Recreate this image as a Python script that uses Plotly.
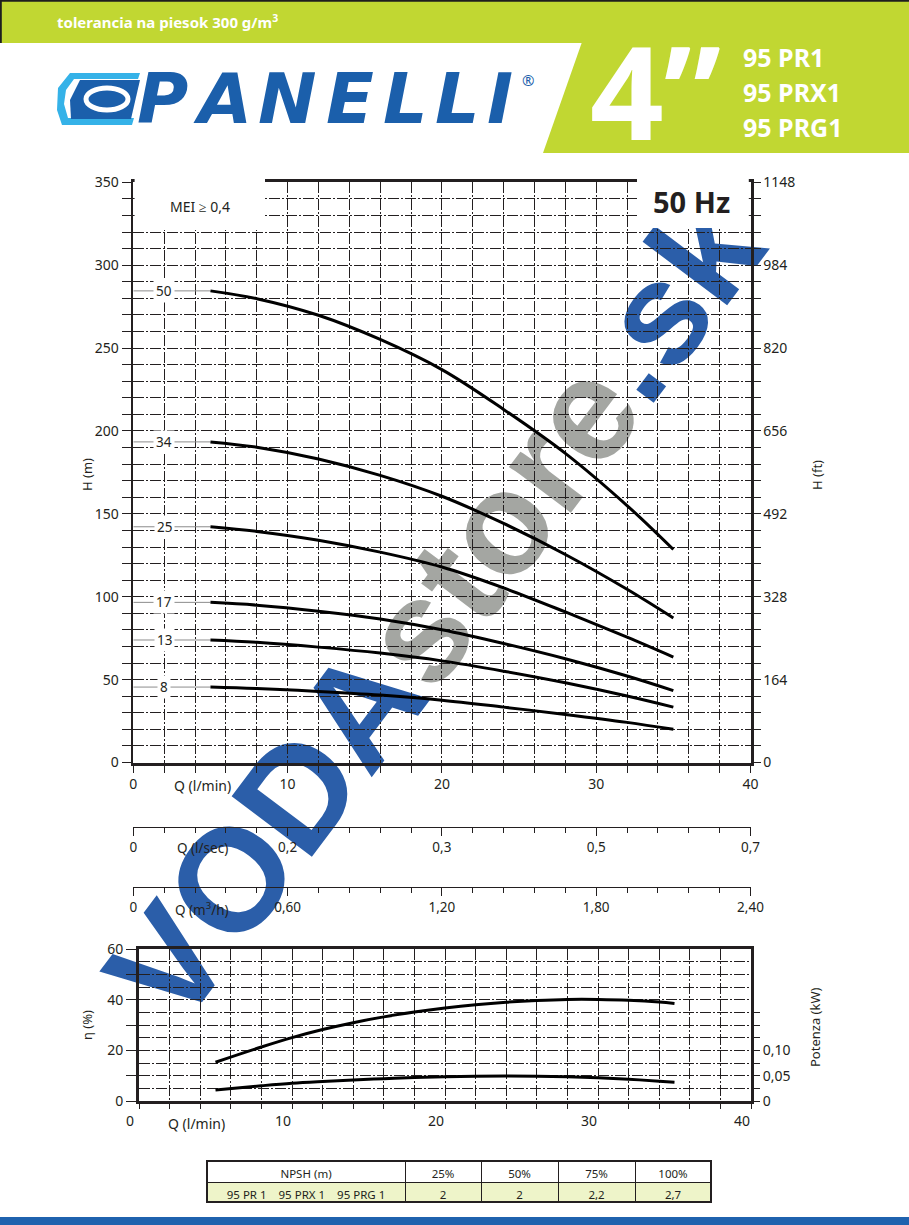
import plotly.graph_objects as go

W, H = 909, 1225
INK = "#231f20"
GREEN = "#c1d732"
BLUE = "#1b5fab"
WM_BLUE = "#2b5ea9"
WM_GRAY = "#a4a6a2"
FONT = "Noto Sans"
GRID_DASH = "11px,2px,2px,2px"


def fx(p):
    return p / W


def fy(p):
    return 1 - p / H


# ---------------- data ----------------
Q_HEAD = [5, 8, 12, 16, 20, 24, 28, 32, 35]          # l/min
STAGES = [50, 34, 25, 17, 13, 8]
H_50 = [284.5, 279.8, 269.8, 255.2, 237.0, 213.0, 186.5, 155.0, 128.5]
H_34 = [193.4, 190.2, 183.1, 173.2, 160.6, 144.2, 125.5, 104.5, 87.2]
H_25 = [142.2, 139.4, 134.1, 126.9, 117.9, 105.3, 90.8, 75.6, 63.6]
H_17 = [96.6, 94.9, 91.3, 86.6, 80.1, 71.8, 62.6, 52.2, 43.4]
H_13 = [73.9, 72.5, 69.6, 66.0, 61.3, 55.1, 48.1, 40.1, 33.4]
H_8 = [45.5, 44.6, 42.9, 40.7, 37.6, 33.4, 29.0, 24.2, 20.0]
HEAD_CURVES = [H_50, H_34, H_25, H_17, H_13, H_8]

Q_EFF = [5, 8, 10, 12, 14, 16, 18, 20, 22, 24, 26, 28, 30, 32, 34, 35]
ETA = [15.3, 21.3, 25.0, 28.2, 30.9, 33.2, 35.1, 36.7, 38.0, 39.0, 39.7, 40.1, 40.1, 39.8, 39.1, 38.5]
POWER_KW = [0.0215, 0.030, 0.035, 0.0385, 0.0415, 0.044, 0.0465, 0.048, 0.049, 0.0493,
            0.049, 0.048, 0.046, 0.043, 0.039, 0.037]

Q_MAJOR = [0, 10, 20, 30, 40]
Q_LMIN_LABELS = ["0", "10", "20", "30", "40"]
Q_LSEC_LABELS = ["0", "0,2", "0,3", "0,5", "0,7"]
Q_M3H_LABELS = ["0", "0,60", "1,20", "1,80", "2,40"]
H_M_LABELS = ["0", "50", "100", "150", "200", "250", "300", "350"]
H_FT_LABELS = ["0", "164", "328", "492", "656", "820", "984", "1148"]
ETA_LABELS = {0: "0", 20: "20", 40: "40", 60: "60"}
POWER_LABELS = {0: "0", 2: "0,05", 4: "0,10"}

NPSH_HEADER = ["NPSH (m)", "25%", "50%", "75%", "100%"]
NPSH_MODELS = "95 PR 1\u00a0\u00a0\u00a0\u00a095 PRX 1\u00a0\u00a0\u00a0\u00a095 PRG 1"
NPSH_VALUES = ["2", "2", "2,2", "2,7"]

# ---------------- tick arrays ----------------
q_grid = list(range(0, 41, 2))
q_text = [Q_LMIN_LABELS[Q_MAJOR.index(v)] if v in Q_MAJOR else "" for v in q_grid]
h_grid = list(range(0, 351, 10))
h_text = [H_M_LABELS[v // 50] if v % 50 == 0 else "" for v in h_grid]
ft_vals = [i * 32.8 for i in range(36)]
ft_text = [H_FT_LABELS[i // 5] if i % 5 == 0 else "" for i in range(36)]
eta_vals = list(range(0, 61, 10))
eta_text = [ETA_LABELS.get(v, "") for v in eta_vals]
pw_vals = [i * 0.025 for i in range(8)]
pw_text = [POWER_LABELS.get(i, "") for i in range(8)]

fig = go.Figure()

CURVE = dict(color="#000000", width=3, shape="spline", smoothing=1.0)

# head curves
for stage, h in zip(STAGES, HEAD_CURVES):
    fig.add_trace(go.Scatter(x=[0, Q_HEAD[0]], y=[h[0], h[0]], mode="lines",
                             line=dict(color="#8c8c8c", width=1),
                             hoverinfo="skip", showlegend=False))
    fig.add_trace(go.Scatter(x=Q_HEAD, y=h, mode="lines", line=CURVE,
                             showlegend=False, name=str(stage)))
    fig.add_annotation(x=2, y=h[0], xref="x", yref="y", text=str(stage), showarrow=False,
                       bgcolor="white", borderpad=2,
                       font=dict(size=13.5, color=INK, family=FONT))

# dummy traces so the extra axes are drawn
for xa, ya in (("x", "y2"), ("x3", "y"), ("x4", "y")):
    fig.add_trace(go.Scatter(x=[0], y=[0], xaxis=xa, yaxis=ya, mode="markers",
                             marker=dict(opacity=0), hoverinfo="skip", showlegend=False))

# efficiency / power
fig.add_trace(go.Scatter(x=Q_EFF, y=ETA, xaxis="x2", yaxis="y3", mode="lines", line=CURVE,
                         showlegend=False, name="η"))
fig.add_trace(go.Scatter(x=Q_EFF, y=POWER_KW, xaxis="x2", yaxis="y4", mode="lines", line=CURVE,
                         showlegend=False, name="P"))

# NPSH table
fig.add_trace(go.Table(
    domain=dict(x=[fx(207), fx(711)], y=[fy(1214), fy(1161)]),
    columnwidth=[198, 76, 77, 77, 76],
    header=dict(values=NPSH_HEADER, fill_color="white", line=dict(color=INK, width=1),
                font=dict(size=11.5, color=INK, family=FONT), align="center", height=21),
    cells=dict(values=[[NPSH_MODELS]] + [[v] for v in NPSH_VALUES], fill_color="#eef4c9",
               line=dict(color=INK, width=1), font=dict(size=11.5, color=INK, family=FONT),
               align="center", height=20),
))

grid = dict(showgrid=True, gridcolor=INK, gridwidth=1.1, griddash=GRID_DASH, zeroline=False,
            automargin=False)
tickf = dict(size=14, color=INK, family=FONT)

fig.update_layout(
    width=W, height=H, autosize=False,
    margin=dict(l=0, r=0, t=0, b=0, pad=0, autoexpand=False),
    paper_bgcolor="white", plot_bgcolor="rgba(0,0,0,0)",
    showlegend=False,
    xaxis=dict(domain=[fx(133.3), fx(750.5)], range=[0, 40], anchor="y",
               tickmode="array", tickvals=q_grid, ticktext=q_text,
               ticks="outside", ticklen=7, tickwidth=1.2, tickcolor=INK,
               showline=True, linewidth=3, linecolor=INK, mirror=True,
               tickfont=tickf, **grid),
    yaxis=dict(domain=[fy(762.5), fy(182.3)], range=[0, 350], anchor="x",
               tickmode="array", tickvals=h_grid, ticktext=h_text,
               ticks="outside", ticklen=10, tickwidth=1.2, tickcolor=INK,
               showline=True, linewidth=1.5, linecolor=INK,
               tickfont=tickf, **grid),
    yaxis2=dict(overlaying="y", side="right", anchor="x", range=[0, 1148],
                tickmode="array", tickvals=ft_vals, ticktext=ft_text,
                ticks="outside", ticklen=7, tickwidth=1.2, tickcolor=INK,
                showline=True, linewidth=3, linecolor=INK, showgrid=False, zeroline=False,
                automargin=False, tickfont=tickf),
    xaxis3=dict(overlaying="x", anchor="free", position=fy(827), side="bottom", range=[0, 40],
                tickmode="array", tickvals=Q_MAJOR, ticktext=Q_LSEC_LABELS,
                ticks="outside", ticklen=8, tickwidth=1.2, tickcolor=INK,
                minor=dict(dtick=2, tick0=0, ticks="outside", ticklen=5, tickwidth=1, tickcolor=INK),
                showline=True, linewidth=1.3, linecolor=INK, showgrid=False, zeroline=False,
                automargin=False, tickfont=dict(size=13.5, color=INK, family=FONT)),
    xaxis4=dict(overlaying="x", anchor="free", position=fy(887), side="bottom", range=[0, 40],
                tickmode="array", tickvals=Q_MAJOR, ticktext=Q_M3H_LABELS,
                ticks="outside", ticklen=8, tickwidth=1.2, tickcolor=INK,
                minor=dict(dtick=2, tick0=0, ticks="outside", ticklen=5, tickwidth=1, tickcolor=INK),
                showline=True, linewidth=1.3, linecolor=INK, showgrid=False, zeroline=False,
                automargin=False, tickfont=dict(size=13.5, color=INK, family=FONT)),
    xaxis2=dict(domain=[fx(139), fx(751)], range=[0, 40], anchor="y3",
                tickmode="array", tickvals=q_grid, ticktext=q_text, ticklabelshift=-9,
                ticks="outside", ticklen=5, tickwidth=1.2, tickcolor=INK,
                showline=True, linewidth=3, linecolor=INK, mirror=True,
                tickfont=tickf, **grid),
    yaxis3=dict(domain=[fy(1101), fy(949)], range=[0, 60], anchor="x2",
                tickmode="array", tickvals=eta_vals, ticktext=eta_text,
                ticks="outside", ticklen=10, tickwidth=1.2, tickcolor=INK,
                minor=dict(dtick=5, tick0=0, showgrid=True, gridcolor=INK, gridwidth=1.1,
                           griddash=GRID_DASH, ticks=""),
                showline=True, linewidth=3, linecolor=INK, mirror=True,
                tickfont=tickf, **grid),
    yaxis4=dict(overlaying="y3", side="right", anchor="x2", range=[0, 0.3],
                tickmode="array", tickvals=pw_vals, ticktext=pw_text,
                ticks="outside", ticklen=8, tickwidth=1.2, tickcolor=INK,
                showline=False, showgrid=False, zeroline=False, automargin=False,
                tickfont=tickf),
)

shapes = []


def rect_px(x0, y0, x1, y1, fill, layer="above"):
    return dict(type="rect", xref="paper", yref="paper", x0=fx(x0), x1=fx(x1), y0=fy(y1), y1=fy(y0),
                fillcolor=fill, line=dict(width=0), layer=layer)


def path_px(pts, fill, layer="above"):
    d = "M " + " L ".join(f"{fx(x):.5f},{fy(y):.5f}" for x, y in pts) + " Z"
    return dict(type="path", xref="paper", yref="paper", path=d, fillcolor=fill,
                line=dict(width=0), layer=layer)


# watermark (below grid)
wm_text = (f"<b><span style='color:{WM_BLUE}'>VODA</span>"
           f"<span style='color:{WM_GRAY}'>store</span>"
           f"<span style='color:{WM_BLUE}'>.sk</span></b>")
shapes.append(dict(type="rect", xref="paper", yref="paper",
                   x0=fx(418), x1=fx(428), y0=fy(607), y1=fy(597), layer="below",
                   line=dict(width=0), fillcolor="rgba(0,0,0,0)",
                   label=dict(text=wm_text, textangle=-53, textposition="middle center",
                              font=dict(size=146, family="Liberation Sans", color=WM_BLUE))))

# white boxes inside the chart top
shapes.append(rect_px(134.6, 177, 265, 230, "white"))
shapes.append(rect_px(637, 177, 748.8, 228, "white"))

# header
shapes.append(rect_px(0, 0, 909, 43, GREEN))
shapes.append(path_px([(582, 42), (909, 42), (909, 153), (543, 153)], GREEN))
shapes.append(dict(type="line", xref="paper", yref="paper", x0=0, x1=1, y0=fy(0.8), y1=fy(0.8),
                   line=dict(color="#1e1e1e", width=2), layer="above"))
shapes.append(dict(type="line", xref="paper", yref="paper", x0=fx(0.8), x1=fx(0.8), y0=fy(43), y1=fy(0),
                   line=dict(color="#1e1e1e", width=2), layer="above"))
# logo emblem
shapes.append(path_px([(70, 73), (140, 73), (138, 79), (74, 79), (66, 90), (64, 104), (68, 118),
                       (134, 118), (132, 125), (62, 125), (57, 110), (58, 88)], "#35b2e8"))
shapes.append(path_px([(80, 80), (140, 80), (131, 119), (71, 119), (70, 100)], BLUE))
shapes.append(dict(type="circle", xref="paper", yref="paper", x0=fx(86), x1=fx(128),
                   y0=fy(110), y1=fy(88), line=dict(color="white", width=5), fillcolor=BLUE,
                   layer="above"))
# bottom bar
shapes.append(rect_px(0, 1217, 909, 1225, "#1f62ae"))
# table outer border
shapes.append(dict(type="rect", xref="paper", yref="paper", x0=fx(207), x1=fx(711),
                   y0=fy(1202), y1=fy(1161), line=dict(color=INK, width=2),
                   fillcolor="rgba(0,0,0,0)", layer="above"))

fig.update_layout(shapes=shapes)


def note(xp, yp, text, size, color=INK, xanchor="center", angle=0, family=FONT):
    fig.add_annotation(x=fx(xp), y=fy(yp), xref="paper", yref="paper", text=text,
                       showarrow=False, xanchor=xanchor, yanchor="middle", textangle=angle,
                       font=dict(size=size, color=color, family=family))


# header texts
note(55, 22, "<b>tolerancia na piesok 300 g/m<sup>3</sup></b>", 15, "white", "left")
note(655, 90, "<b>4”</b>", 129, "white")
note(741, 57, "<b>95 PR1</b>", 25, "white", "left")
note(741, 92, "<b>95 PRX1</b>", 25, "white", "left")
note(741, 127, "<b>95 PRG1</b>", 25, "white", "left")
logo_letters = ["P", "A", "N", "E", "L", "L", "I"]
logo_x = [162, 222, 287, 350, 405, 457, 500]
for letter, lx in zip(logo_letters, logo_x):
    fig.add_annotation(x=fx(lx), y=fy(99), xref="paper", yref="paper", text=f"<b><i>{letter}</i></b>",
                       showarrow=False, xanchor="center", yanchor="middle",
                       font=dict(size=70, color=BLUE, family="DejaVu Sans"))
note(528, 80, "®", 15, BLUE)

# chart texts
note(200, 206, "MEI ≥ 0,4", 14)
note(691, 202, "<b>50 Hz</b>", 29)
note(87, 475, "H (m)", 13, angle=-90)
note(817, 475, "H (ft)", 13, angle=-90)
note(202, 785, "Q (l/min)", 14)
note(202, 848, "Q (l/sec)", 13.5)
note(202, 909, "Q (m<sup>3</sup>/h)", 13.5)
note(87, 1025, "η (%)", 13, angle=-90)
note(815, 1027, "Potenza (kW)", 13, angle=-90)
note(196, 1123, "Q (l/min)", 14)

fig.write_html("out.html", config={"displayModeBar": False},
               post_script="document.body.style.margin='0px';")
